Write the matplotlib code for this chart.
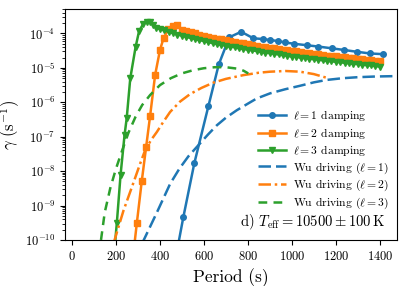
import numpy as np
import matplotlib
matplotlib.use("Agg")
import matplotlib.pyplot as plt

plt.rcParams['font.family'] = 'serif'
plt.rcParams['font.serif'] = ['cmr10']
plt.rcParams['mathtext.fontset'] = 'cm'
plt.rcParams['axes.formatter.use_mathtext'] = True
plt.rcParams['axes.unicode_minus'] = False

# damping rates, log10(gamma / s^-1)
period_l1 = [470, 507, 557, 621, 668, 716, 770, 825, 867, 901, 938, 969, 1011, 1067,
             1120, 1181, 1238, 1294, 1354, 1412]
log_gamma_l1 = [-10.6, -9.34, -7.77, -6.11, -4.90, -4.11, -3.95, -4.14, -4.16, -4.19, -4.22,
                -4.26, -4.30, -4.34, -4.38, -4.43, -4.48, -4.53, -4.58, -4.60]

period_l2 = [280, 296, 318, 338, 356, 379, 401, 417, 439, 460, 480,
             500, 520, 540, 560, 580, 600, 620, 640, 660, 680, 700, 720, 740, 760, 780,
             800, 820, 840, 860, 880, 900, 920, 940, 960, 980, 1000, 1020, 1040, 1060,
             1080, 1100, 1120, 1140, 1160, 1180, 1200, 1220, 1240, 1260, 1280, 1300,
             1320, 1340, 1360, 1380, 1400]
log_gamma_l2 = [-10.4, -9.5, -8.3, -7.3, -6.4, -5.2, -4.48, -4.14, -3.87, -3.79, -3.74,
                -3.90, -3.94, -3.97, -4.00, -4.03, -4.06, -4.09, -4.12, -4.15, -4.17, -4.20,
                -4.22, -4.24, -4.27, -4.29, -4.31, -4.33, -4.35, -4.38, -4.40, -4.41, -4.43,
                -4.45, -4.47, -4.49, -4.51, -4.52, -4.54, -4.56, -4.57, -4.59, -4.60, -4.62,
                -4.64, -4.65, -4.66, -4.68, -4.69, -4.71, -4.72, -4.73, -4.75, -4.76, -4.77,
                -4.79, -4.80]

period_l3 = [190, 205, 222, 240, 250, 266, 290, 306, 325, 340, 355, 370, 385,
             400, 420, 440, 460, 480, 500, 520, 540, 560, 580, 600, 620, 640, 660, 680,
             700, 720, 740, 760, 780, 800, 820, 840, 860, 880, 900, 920, 940, 960, 980,
             1000, 1020, 1040, 1060, 1080, 1100, 1120, 1140, 1160, 1180, 1200, 1220, 1240,
             1260, 1280, 1300, 1320, 1340, 1360, 1380, 1400]
log_gamma_l3 = [-10.6, -9.5, -8.1, -6.95, -6.45, -5.3, -4.4, -3.93, -3.72, -3.66, -3.66,
                -3.75, -3.83,
                -3.87, -3.91, -3.95, -3.99, -4.03, -4.06, -4.10, -4.13, -4.16, -4.19, -4.22,
                -4.25, -4.28, -4.31, -4.33, -4.36, -4.38, -4.40, -4.43, -4.45, -4.47, -4.49,
                -4.51, -4.54, -4.56, -4.57, -4.59, -4.61, -4.63, -4.65, -4.67, -4.68, -4.70,
                -4.72, -4.73, -4.75, -4.76, -4.78, -4.80, -4.81, -4.82, -4.84, -4.85, -4.87,
                -4.88, -4.89, -4.91, -4.92, -4.93, -4.95, -4.96]

# Wu driving rates
wu_period_l1 = [320, 387, 447, 489, 530, 575, 620, 659, 700, 750, 800, 840, 901, 970,
                1037, 1100, 1158, 1230, 1300, 1380, 1460, 1490]
wu_log_l1 = [-10.1, -9.2, -8.37, -7.93, -7.57, -7.25, -6.93, -6.67, -6.45, -6.23, -6.04,
             -5.89, -5.74, -5.62, -5.52, -5.42, -5.35, -5.30, -5.27, -5.25, -5.24, -5.24]

wu_period_l2 = [190, 235, 273, 311, 333, 360, 387, 415, 447, 492, 538, 590, 643, 700,
                780, 850, 901, 970, 1037, 1100, 1160]
wu_log_l2 = [-10.1, -9.15, -8.47, -7.78, -7.40, -7.10, -6.86, -6.58, -6.28, -5.98, -5.76,
             -5.58, -5.43, -5.32, -5.21, -5.14, -5.11, -5.09, -5.11, -5.18, -5.29]

wu_period_l3 = [133, 150, 175, 200, 228, 258, 290, 320, 356, 401, 450, 500, 550, 600,
                650, 700, 750, 780, 802]
wu_log_l3 = [-10.0, -9.2, -8.5, -7.95, -7.42, -6.88, -6.42, -6.08, -5.79, -5.50, -5.30,
             -5.16, -5.07, -5.01, -4.98, -4.98, -5.02, -5.08, -5.16]

fig = plt.figure(figsize=(4.07, 2.86), dpi=100)
ax = fig.add_axes([0.160, 0.161, 0.815, 0.806])

ax.plot(period_l1, 10 ** np.array(log_gamma_l1), '-o', color='C0', lw=1.8, ms=4,
        label=r'$\ell = 1$ damping')
ax.plot(period_l2, 10 ** np.array(log_gamma_l2), '-s', color='C1', lw=1.8, ms=4,
        label=r'$\ell = 2$ damping')
ax.plot(period_l3, 10 ** np.array(log_gamma_l3), '-v', color='C2', lw=1.8, ms=4,
        label=r'$\ell = 3$ damping')
ax.plot(wu_period_l1, 10 ** np.array(wu_log_l1), color='C0', lw=1.8, dashes=(5, 2),
        label=r'Wu driving ($\ell = 1$)')
ax.plot(wu_period_l2, 10 ** np.array(wu_log_l2), color='C1', lw=1.8, dashes=(5, 1.5, 1, 1.5),
        label=r'Wu driving ($\ell = 2$)')
ax.plot(wu_period_l3, 10 ** np.array(wu_log_l3), color='C2', lw=1.8, dashes=(3.5, 2.5),
        label=r'Wu driving ($\ell = 3$)')

ax.set_yscale('log')
ax.set_xlim(-30, 1477)
ax.set_ylim(1e-10, 5e-4)
ax.set_xticks([0, 200, 400, 600, 800, 1000, 1200, 1400])
ax.tick_params(labelsize=9)
ax.set_xlabel('Period (s)', fontsize=12.5)
ax.set_ylabel(r'$\gamma\ (\mathrm{s}^{-1})$', fontsize=12)
ax.yaxis.set_label_coords(-0.13, 0.5)

ax.legend(loc='lower right', bbox_to_anchor=(0.99, 0.105), frameon=False, fontsize=8.4,
          borderaxespad=0, handlelength=2.4, handletextpad=0.6, labelspacing=0.2)
ax.text(0.965, 0.078, r'd) $T_{\rm eff} = 10500 \pm 100\,{\rm K}$', transform=ax.transAxes,
        ha='right', va='center', fontsize=10.5)

fig.savefig('out.png', dpi=100)
